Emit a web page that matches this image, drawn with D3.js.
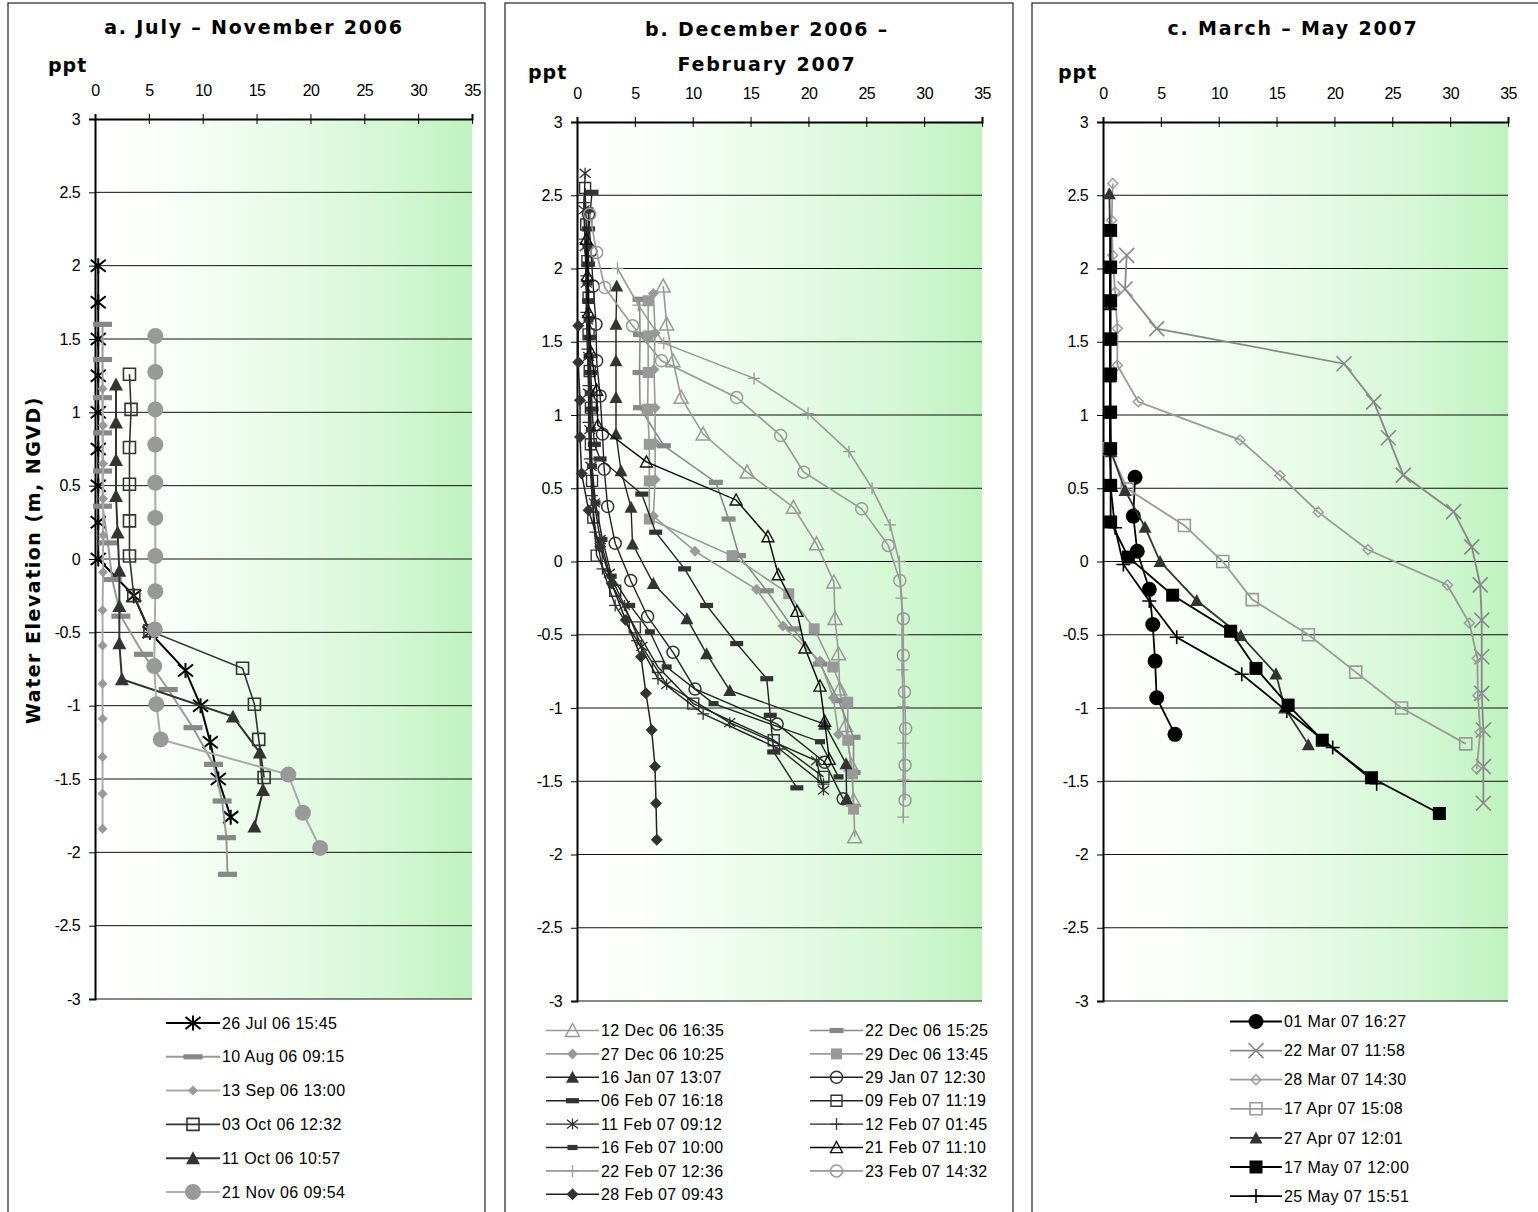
<!DOCTYPE html>
<html><head><meta charset="utf-8">
<script src="https://cdn.jsdelivr.net/npm/d3@7"></script>
<style>body{margin:0;background:#fff;} svg{display:block;}</style>
</head><body>
<script>
// ---------- tick values ----------
const xTicks = [0,5,10,15,20,25,30,35];
const yTicks = [3,2.5,2,1.5,1,0.5,0,-0.5,-1,-1.5,-2,-2.5,-3];

// ---------- panel a: [ppt, elevation] ----------
const a_26Jul = [[0.3,2.0],[0.3,1.75],[0.3,1.5],[0.3,1.25],[0.3,1.0],[0.3,0.75],[0.3,0.5],[0.3,0.25],[0.3,0.0],[3.6,-0.25],[5.1,-0.5],[8.4,-0.76],[9.8,-1.0],[10.7,-1.25],[11.45,-1.5],[12.6,-1.76]];
const a_10Aug = [[0.7,1.6],[0.7,1.36],[0.7,1.1],[0.7,0.86],[0.7,0.6],[0.7,0.36],[1.2,0.11],[1.6,-0.14],[2.4,-0.39],[4.5,-0.65],[6.8,-0.89],[9.1,-1.15],[11.0,-1.4],[11.8,-1.65],[12.2,-1.9],[12.3,-2.15]];
const a_13Sep = [[0.7,1.16],[0.75,0.91],[0.75,0.65],[0.75,0.41],[0.75,0.16],[0.75,-0.09],[0.7,-0.35],[0.7,-0.59],[0.7,-0.85],[0.7,-1.09],[0.7,-1.35],[0.7,-1.6],[0.7,-1.84]];
const a_03Oct = [[3.2,1.26],[3.35,1.02],[3.2,0.76],[3.2,0.51],[3.2,0.26],[3.2,0.02],[3.6,-0.25],[5.1,-0.49],[13.7,-0.745],[14.8,-0.99],[15.2,-1.23],[15.7,-1.49]];
const a_11Oct = [[1.95,1.19],[1.95,0.93],[1.95,0.675],[1.95,0.43],[2.1,0.18],[2.26,-0.08],[2.26,-0.32],[2.26,-0.575],[2.5,-0.82],[12.8,-1.075],[15.3,-1.32],[15.6,-1.575],[14.8,-1.825]];
const a_21Nov = [[5.6,1.52],[5.6,1.275],[5.6,1.02],[5.6,0.78],[5.6,0.52],[5.6,0.28],[5.6,0.02],[5.6,-0.22],[5.55,-0.48],[5.5,-0.73],[5.7,-0.99],[6.1,-1.23],[17.95,-1.47],[19.3,-1.73],[20.9,-1.97]];

// ---------- panel b ----------
const b_12Dec = [[7.45,1.88],[7.75,1.62],[8.3,1.37],[9.0,1.12],[10.9,0.87],[14.7,0.61],[18.7,0.37],[20.7,0.12],[22.2,-0.14],[22.3,-0.39],[22.6,-0.63],[22.7,-0.87],[23.2,-1.12],[23.7,-1.39],[23.9,-1.63],[24.0,-1.88]];
const b_22Dec = [[5.4,1.79],[5.45,1.55],[5.4,1.29],[5.45,1.05],[7.5,0.79],[12.0,0.54],[13.1,0.29],[14.0,0.04],[16.4,-0.2],[18.7,-0.46],[21.0,-0.7],[22.6,-0.95],[23.9,-1.2],[23.9,-1.44]];
const b_27Dec = [[6.6,1.83],[6.75,1.56],[6.65,1.31],[6.75,1.05],[6.75,0.81],[6.75,0.56],[6.6,0.31],[10.2,0.07],[15.5,-0.19],[17.8,-0.44],[21.0,-0.68],[22.15,-0.93],[22.6,-1.18]];
const b_29Dec = [[6.15,1.78],[6.15,1.54],[6.15,1.29],[6.1,1.04],[6.25,0.8],[6.25,0.55],[6.25,0.29],[13.4,0.04],[18.3,-0.22],[20.5,-0.46],[22.1,-0.72],[23.4,-0.96],[23.4,-1.22],[23.8,-1.45],[23.9,-1.69]];
const b_16Jan = [[3.43,1.88],[3.37,1.62],[3.37,1.37],[3.37,1.12],[3.37,0.87],[3.8,0.62],[4.67,0.37],[4.8,0.12],[6.6,-0.15],[9.5,-0.39],[11.2,-0.63],[13.2,-0.88],[21.4,-1.11],[23.25,-1.38],[23.3,-1.62]];
const b_29Jan = [[1.0,2.37],[1.2,2.12],[1.4,1.88],[1.64,1.62],[1.7,1.37],[2.0,1.13],[2.2,0.87],[2.35,0.63],[2.65,0.375],[3.3,0.125],[4.64,-0.13],[6.1,-0.375],[8.3,-0.62],[10.2,-0.87],[17.3,-1.11],[21.4,-1.37],[23.0,-1.62]];
const b_06Feb = [[1.3,2.52],[1.0,2.27],[1.0,2.03],[1.0,1.78],[1.1,1.53],[1.2,1.29],[1.3,1.04],[1.5,0.8],[2.0,0.7],[5.6,0.46],[6.8,0.2],[9.3,-0.05],[11.2,-0.3],[13.8,-0.56],[16.4,-0.8],[16.7,-1.05],[17.0,-1.3],[19.0,-1.545]];
const b_09Feb = [[0.7,2.55],[0.8,2.3],[0.9,2.05],[1.0,1.8],[1.0,1.55],[1.1,1.3],[1.2,1.05],[1.2,0.8],[1.3,0.55],[1.41,0.3],[1.7,0.04],[3.3,-0.2],[5.0,-0.45],[7.0,-0.72],[10.05,-0.97],[17.0,-1.22],[21.3,-1.47]];
const b_11Feb = [[0.7,2.65],[0.6,2.4],[0.7,2.15],[0.8,1.9],[0.9,1.65],[1.0,1.4],[1.0,1.15],[1.1,0.9],[1.2,0.65],[1.5,0.4],[2.0,0.15],[2.8,-0.08],[4.1,-0.3],[5.6,-0.58],[7.75,-0.84],[13.2,-1.1],[20.7,-1.36],[21.3,-1.56]];
const b_12Feb = [[0.6,2.45],[0.7,2.2],[0.8,1.95],[0.8,1.7],[0.9,1.45],[1.0,1.2],[1.0,0.95],[1.1,0.7],[1.3,0.45],[1.6,0.2],[2.2,-0.05],[3.3,-0.3],[5.2,-0.54],[7.0,-0.8],[10.9,-1.04],[17.5,-1.28],[21.3,-1.52]];
const b_16Feb = [[1.0,2.4],[0.9,2.15],[0.9,1.9],[1.0,1.65],[1.0,1.4],[1.1,1.15],[1.2,0.9],[1.3,0.65],[1.6,0.4],[2.2,0.15],[3.0,-0.1],[4.6,-0.3],[6.3,-0.48],[7.75,-0.72],[11.8,-0.97],[21.0,-1.23],[22.6,-1.47]];
const b_21Feb = [[0.8,2.2],[0.9,1.95],[1.0,1.7],[1.2,1.43],[1.7,1.17],[1.8,0.93],[6.0,0.68],[13.75,0.42],[16.5,0.17],[17.4,-0.09],[19.0,-0.34],[19.7,-0.59],[21.0,-0.85],[21.4,-1.09],[21.8,-1.35]];
const b_22Feb = [[3.5,2.0],[5.3,1.75],[7.5,1.49],[15.3,1.25],[19.96,1.01],[23.5,0.75],[25.5,0.5],[27.05,0.25],[27.85,0.0],[28.05,-0.25],[28.1,-0.5],[28.1,-0.74],[28.2,-0.99],[28.2,-1.24],[28.2,-1.49],[28.2,-1.745]];
const b_23Feb = [[1.1,2.37],[1.7,2.11],[2.4,1.87],[4.8,1.61],[7.3,1.37],[13.8,1.12],[17.6,0.86],[19.6,0.61],[24.6,0.36],[26.9,0.11],[27.9,-0.13],[28.2,-0.39],[28.2,-0.64],[28.3,-0.89],[28.4,-1.14],[28.35,-1.39],[28.35,-1.63]];
const b_28Feb = [[0.11,1.61],[0.11,1.36],[0.26,1.1],[0.26,0.85],[0.4,0.6],[1.0,0.35],[2.0,0.1],[3.0,-0.15],[4.2,-0.4],[5.53,-0.65],[5.96,-0.9],[6.45,-1.15],[6.74,-1.4],[6.83,-1.65],[6.9,-1.9]];

// ---------- panel c ----------
const c_01Mar = [[2.77,0.575],[2.62,0.31],[2.96,0.07],[4.0,-0.19],[4.3,-0.43],[4.5,-0.68],[4.64,-0.93],[6.22,-1.18]];
const c_22Mar = [[2.05,2.09],[1.9,1.86],[4.64,1.59],[20.83,1.35],[23.4,1.09],[24.66,0.845],[25.95,0.59],[30.3,0.34],[31.87,0.1],[32.6,-0.16],[32.73,-0.4],[32.73,-0.65],[32.73,-0.9],[32.87,-1.15],[32.87,-1.4],[32.87,-1.65]];
const c_28Mar = [[0.84,2.58],[0.75,2.33],[0.84,2.09],[1.04,1.84],[1.24,1.59],[1.24,1.34],[3.05,1.09],[11.84,0.83],[15.3,0.587],[18.6,0.337],[22.9,0.08],[29.76,-0.16],[31.66,-0.42],[32.35,-0.66],[32.4,-0.915],[32.6,-1.165],[32.3,-1.415]];
const c_17Apr = [[0.5,0.77],[2.1,0.496],[7.03,0.246],[10.35,0.0],[12.9,-0.26],[17.75,-0.5],[21.84,-0.755],[25.8,-1.0],[31.35,-1.245]];
const c_27Apr = [[0.55,2.51],[0.6,2.26],[0.6,2.01],[0.6,1.76],[0.6,1.51],[0.6,1.26],[0.6,1.01],[0.7,0.75],[1.9,0.485],[3.63,0.234],[4.93,0.0],[8.1,-0.266],[11.9,-0.505],[14.95,-0.767],[15.7,-1.0],[17.75,-1.25]];
const c_17May = [[0.66,2.26],[0.66,2.01],[0.66,1.78],[0.66,1.52],[0.66,1.28],[0.66,1.02],[0.66,0.77],[0.66,0.52],[0.66,0.27],[2.19,0.03],[6.02,-0.23],[11.03,-0.476],[13.22,-0.73],[16.0,-0.98],[18.95,-1.22],[23.2,-1.476],[29.07,-1.72]];
const c_25May = [[0.6,1.97],[0.6,1.72],[0.6,1.48],[0.6,1.23],[0.6,0.985],[0.6,0.735],[0.7,0.48],[1.04,0.23],[1.76,-0.02],[4.0,-0.27],[6.37,-0.517],[11.99,-0.77],[15.88,-1.02],[19.85,-1.27],[23.65,-1.517]];

// ---------- labels ----------
const labelsA = ['26 Jul 06 15:45','10 Aug 06 09:15','13 Sep 06 13:00','03 Oct 06 12:32','11 Oct 06 10:57','21 Nov 06 09:54'];
const labelsB = ['12 Dec 06 16:35','22 Dec 06 15:25','27 Dec 06 10:25','29 Dec 06 13:45','16 Jan 07 13:07','29 Jan 07 12:30','06 Feb 07 16:18','09 Feb 07 11:19','11 Feb 07 09:12','12 Feb 07 01:45','16 Feb 07 10:00','21 Feb 07 11:10','22 Feb 07 12:36','23 Feb 07 14:32','28 Feb 07 09:43'];
const labelsC = ['01 Mar 07 16:27','22 Mar 07 11:58','28 Mar 07 14:30','17 Apr 07 15:08','27 Apr 07 12:01','17 May 07 12:00','25 May 07 15:51'];

// ---------- styles (separate from data) ----------
const stylesA = [
  {data:a_26Jul, line:'#000', lw:2, shape:'star', size:15, stroke:'#000', fill:'none', sw:2},
  {data:a_10Aug, line:'#999', lw:2, shape:'bar', size:19, stroke:'none', fill:'#888', sw:0},
  {data:a_13Sep, line:'#aaa', lw:2, shape:'diamond', size:10, stroke:'none', fill:'#999', sw:0},
  {data:a_03Oct, line:'#333', lw:1.6, shape:'square', size:12, stroke:'#333', fill:'none', sw:1.6},
  {data:a_11Oct, line:'#333', lw:2, shape:'triangle', size:14, stroke:'none', fill:'#333', sw:0},
  {data:a_21Nov, line:'#aaa', lw:2, shape:'circle', size:16, stroke:'none', fill:'#999', sw:0}
];
const stylesB = [
  {data:b_12Dec, line:'#999', lw:1.6, shape:'triangle', size:14, stroke:'#999', fill:'none', sw:1.5},
  {data:b_22Dec, line:'#888', lw:1.6, shape:'bar', size:14, stroke:'none', fill:'#888', sw:0},
  {data:b_27Dec, line:'#999', lw:1.6, shape:'diamond', size:11, stroke:'none', fill:'#999', sw:0},
  {data:b_29Dec, line:'#999', lw:1.6, shape:'square', size:11, stroke:'none', fill:'#999', sw:0},
  {data:b_16Jan, line:'#222', lw:1.4, shape:'triangle', size:13, stroke:'none', fill:'#333', sw:0},
  {data:b_29Jan, line:'#222', lw:1.4, shape:'circle', size:12, stroke:'#333', fill:'none', sw:1.5},
  {data:b_06Feb, line:'#222', lw:1.4, shape:'bar', size:13, stroke:'none', fill:'#333', sw:0},
  {data:b_09Feb, line:'#222', lw:1.4, shape:'square', size:11, stroke:'#333', fill:'none', sw:1.4},
  {data:b_11Feb, line:'#222', lw:1.4, shape:'star', size:11, stroke:'#333', fill:'none', sw:1.3},
  {data:b_12Feb, line:'#222', lw:1.4, shape:'plus', size:12, stroke:'#333', fill:'none', sw:1.3},
  {data:b_16Feb, line:'#222', lw:1.4, shape:'bar', size:10, stroke:'none', fill:'#333', sw:0},
  {data:b_21Feb, line:'#000', lw:1.4, shape:'triangle', size:12, stroke:'#111', fill:'none', sw:1.4},
  {data:b_22Feb, line:'#999', lw:1.6, shape:'plus', size:12, stroke:'#999', fill:'none', sw:1.3},
  {data:b_23Feb, line:'#999', lw:1.6, shape:'circle', size:12, stroke:'#999', fill:'none', sw:1.5},
  {data:b_28Feb, line:'#222', lw:1.5, shape:'diamond', size:12, stroke:'none', fill:'#333', sw:0}
];
const stylesC = [
  {data:c_01Mar, line:'#000', lw:1.8, shape:'circle', size:15, stroke:'none', fill:'#000', sw:0},
  {data:c_22Mar, line:'#888', lw:1.8, shape:'x', size:15, stroke:'#888', fill:'none', sw:1.6},
  {data:c_28Mar, line:'#999', lw:1.8, shape:'diamond', size:10, stroke:'#999', fill:'none', sw:1.4},
  {data:c_17Apr, line:'#999', lw:1.8, shape:'square', size:12, stroke:'#999', fill:'none', sw:1.6},
  {data:c_27Apr, line:'#333', lw:1.8, shape:'triangle', size:13, stroke:'none', fill:'#333', sw:0},
  {data:c_17May, line:'#000', lw:1.8, shape:'square', size:13, stroke:'none', fill:'#000', sw:0},
  {data:c_25May, line:'#000', lw:1.8, shape:'plus', size:14, stroke:'#000', fill:'none', sw:1.6}
];

// ---------- drawing ----------
const W = 1538, H = 1212;
const svg = d3.select('body').append('svg').attr('width', W).attr('height', H);
const defs = svg.append('defs');
const grad = defs.append('linearGradient').attr('id','bg').attr('x1','0').attr('x2','1').attr('y1','0').attr('y2','0');
[[0,'#ffffff'],[0.15,'#fcfffc'],[0.5,'#e7fbe7'],[0.8,'#d3f7d3'],[1,'#bff2bf']].forEach(([o,c]) =>
  grad.append('stop').attr('offset', o).attr('stop-color', c));

const TICKFONT = '"Liberation Sans", Arial, sans-serif';
const TITLEFONT = '"DejaVu Sans", Verdana, sans-serif';

function markerPath(shape, s) {
  const h = s / 2;
  switch (shape) {
    case 'square': return `M${-h},${-h}H${h}V${h}H${-h}Z`;
    case 'diamond': return `M0,${-h}L${h},0L0,${h}L${-h},0Z`;
    case 'triangle': return `M0,${-h}L${h},${h*0.85}L${-h},${h*0.85}Z`;
    case 'circle': return `M${h},0A${h},${h} 0 1,1 ${-h},0A${h},${h} 0 1,1 ${h},0Z`;
    case 'x': return `M${-h},${-h}L${h},${h}M${-h},${h}L${h},${-h}`;
    case 'plus': return `M${-h},0H${h}M0,${-h}V${h}`;
    case 'star': return `M${-h},${-h*0.8}L${h},${h*0.8}M${-h},${h*0.8}L${h},${-h*0.8}M0,${-h}V${h}`;
    case 'bar': return `M${-h},${-2.6}H${h}V${2.6}H${-h}Z`;
  }
}
function drawMarker(g, st, x, y) {
  g.append('path').attr('d', markerPath(st.shape, st.size))
    .attr('transform', `translate(${x},${y})`)
    .attr('fill', st.fill).attr('stroke', st.stroke).attr('stroke-width', st.sw);
}

function drawPanel(p) {
  const g = svg.append('g');
  g.append('rect').attr('x', p.frame[0]).attr('y', p.frame[1]).attr('width', p.frame[2]).attr('height', p.frame[3])
    .attr('fill', '#fff').attr('stroke', '#333').attr('stroke-width', 1.3);
  const x = d3.scaleLinear().domain([0, 35]).range(p.xr);
  const y = d3.scaleLinear().domain([-3, 3]).range(p.yr);
  g.append('rect').attr('x', x(0)).attr('y', y(3)).attr('width', x(35) - x(0)).attr('height', y(-3) - y(3))
    .attr('fill', 'url(#bg)');
  g.append('g').selectAll('line').data(yTicks.filter(v => v < 3)).join('line')
    .attr('x1', x(0)).attr('x2', x(35)).attr('y1', d => y(d)).attr('y2', d => y(d))
    .attr('stroke', '#111').attr('stroke-width', 1);
  const ya = g.append('g').attr('transform', `translate(${x(0)},0)`)
    .call(d3.axisLeft(y).tickValues(yTicks).tickSize(6).tickPadding(9).tickFormat(d => String(d)));
  ya.select('.domain').attr('stroke', '#000').attr('stroke-width', 2);
  ya.selectAll('.tick line').attr('stroke', '#000').attr('stroke-width', 1);
  ya.selectAll('text').attr('font-family', TICKFONT).attr('font-size', 16).attr('fill', '#000').attr('letter-spacing', '-0.6');
  const xa = g.append('g').attr('transform', `translate(0,${y(3)})`)
    .call(d3.axisTop(x).tickValues(xTicks).tickSize(5).tickPadding(18).tickFormat(d => String(d)));
  xa.select('.domain').attr('stroke', '#000').attr('stroke-width', 2);
  xa.selectAll('.tick line').attr('y1', 5).attr('y2', -5).attr('stroke', '#000').attr('stroke-width', 1);
  xa.selectAll('text').attr('font-family', TICKFONT).attr('font-size', 16).attr('fill', '#000').attr('letter-spacing', '-0.6');

  const line = d3.line().x(d => x(d[0])).y(d => y(d[1]));
  p.styles.forEach(st => {
    g.append('path').attr('d', line(st.data)).attr('fill', 'none').attr('stroke', st.line).attr('stroke-width', st.lw);
    st.data.forEach(d => drawMarker(g, st, x(d[0]), y(d[1])));
  });

  p.title.forEach(t => g.append('text').attr('x', t[1]).attr('y', t[2]).attr('text-anchor', 'middle')
    .attr('font-family', TITLEFONT).attr('font-weight', 'bold').attr('font-size', 19).attr('letter-spacing', '1.8')
    .text(t[0]));
  g.append('text').attr('x', p.ppt[0]).attr('y', p.ppt[1]).attr('font-family', TITLEFONT).attr('font-weight', 'bold')
    .attr('font-size', 19).attr('letter-spacing', '1').text('ppt');

  p.styles.forEach((st, i) => {
    const col = p.legend.cols === 2 ? i % 2 : 0;
    const row = p.legend.cols === 2 ? Math.floor(i / 2) : i;
    const lx = p.legend.x[col], ly = p.legend.y0 + row * p.legend.dy;
    g.append('line').attr('x1', lx).attr('x2', lx + p.legend.len).attr('y1', ly).attr('y2', ly)
      .attr('stroke', st.line).attr('stroke-width', st.lw);
    drawMarker(g, st, lx + p.legend.len / 2, ly);
    g.append('text').attr('x', lx + p.legend.len + 2).attr('y', ly).attr('dy', '0.35em')
      .attr('font-family', TICKFONT).attr('font-size', 16).attr('letter-spacing', '0.4').attr('fill', '#000')
      .text(p.labels[i]);
  });
}

drawPanel({frame:[8,3,477,1240], xr:[95,472], yr:[999,119], styles:stylesA, labels:labelsA,
  title:[['a. July – November 2006', 254, 34]], ppt:[48, 72],
  legend:{cols:1, x:[166], y0:1023, dy:33.8, len:54}});
drawPanel({frame:[505,3,508,1240], xr:[577,982], yr:[1001,122], styles:stylesB, labels:labelsB,
  title:[['b. December 2006 –', 767, 36], ['February 2007', 767, 71]], ppt:[528, 79],
  legend:{cols:2, x:[546, 810], y0:1030.5, dy:23.4, len:53}});
drawPanel({frame:[1032,3,520,1240], xr:[1103,1508], yr:[1001,122], styles:stylesC, labels:labelsC,
  title:[['c. March – May 2007', 1293, 35]], ppt:[1058, 79],
  legend:{cols:1, x:[1230], y0:1021.5, dy:29.1, len:52}});

svg.append('text').attr('transform', 'translate(40,560) rotate(-90)').attr('text-anchor', 'middle')
  .attr('font-family', TITLEFONT).attr('font-weight', 'bold').attr('font-size', 19).attr('letter-spacing', '1.5')
  .text('Water Elevation (m, NGVD)');
</script>
</body></html>
